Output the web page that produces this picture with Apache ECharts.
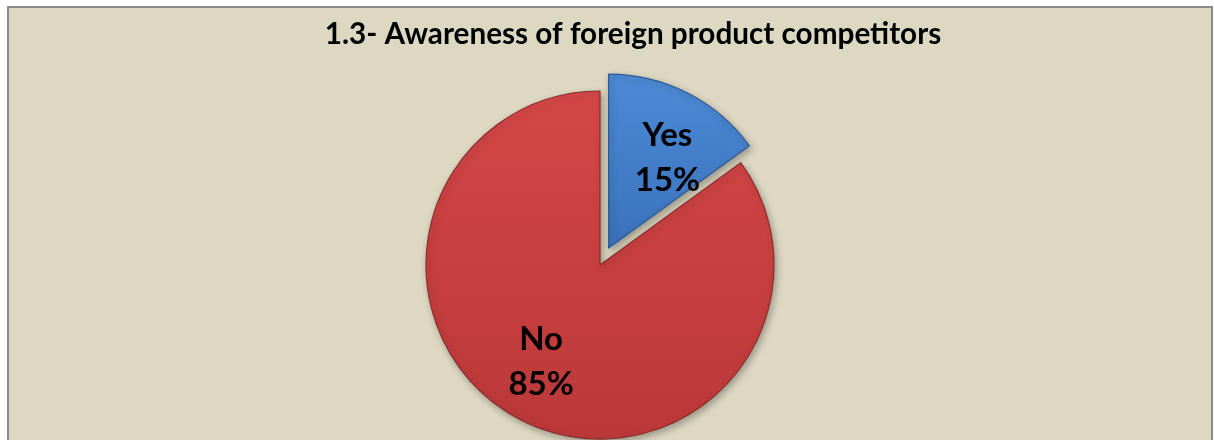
<!DOCTYPE html>
<html>
<head>
<meta charset="utf-8">
<script src="https://cdn.jsdelivr.net/npm/echarts@6/dist/echarts.min.js"></script>
<style>
  html, body { margin: 0; padding: 0; background: #ffffff; }
  #chart { width: 1214px; height: 440px; }
</style>
</head>
<body>
<div id="chart"></div>
<script>
// Survey answers: share of respondents (percent)
const categories = ['Yes', 'No'];
const shares = [15, 85];

const chartTitle = '1.3- Awareness of foreign product competitors';

// Fill gradients (top / bottom) and bevel edge per slice
const sliceFills = [
  { top: '#4d8ad6', bottom: '#3a71bc', edge: '#2e5b96' },
  { top: '#d44747', bottom: '#bb3838', edge: '#8e2b2b' }
];

// Nudge each label inside its slice [dx, dy]
const labelShift = [
  [18, -10],
  [-18, 17]
];

const chart = echarts.init(document.getElementById('chart'), null, { renderer: 'canvas' });

const pieData = categories.map((name, i) => ({
  name: name,
  value: shares[i],
  selected: i === 0,
  label: { offset: labelShift[i] },
  select: { label: { offset: labelShift[i] } },
  itemStyle: {
    color: {
      type: 'linear', x: 0, y: 0, x2: 0, y2: 1,
      colorStops: [
        { offset: 0, color: sliceFills[i].top },
        { offset: 1, color: sliceFills[i].bottom }
      ]
    },
    borderColor: sliceFills[i].edge,
    borderWidth: 1.2
  }
}));

chart.setOption({
  backgroundColor: '#ffffff',
  animation: false,
  graphic: [{
    type: 'rect',
    z: -10,
    silent: true,
    shape: { x: 8, y: 7, width: 1204, height: 445 },
    style: { fill: '#ddd8c2', stroke: '#8a8a8a', lineWidth: 2 }
  }],
  title: {
    text: chartTitle,
    left: 628,
    textAlign: 'center',
    top: 14,
    textStyle: {
      fontFamily: 'Lato',
      fontWeight: 'bold',
      fontSize: 29.7,
      color: '#000000'
    }
  },
  series: [{
    type: 'pie',
    center: [600, 265],
    radius: [0, 174],
    startAngle: 90,
    clockwise: true,
    selectedMode: 'single',
    selectedOffset: 19,
    itemStyle: {
      shadowBlur: 7,
      shadowColor: 'rgba(0,0,0,0.3)',
      shadowOffsetX: 2,
      shadowOffsetY: 3
    },
    label: {
      show: true,
      position: 'inside',
      formatter: '{b}\n{d}%',
      fontFamily: 'Lato',
      fontWeight: 'bold',
      fontSize: 33,
      lineHeight: 45,
      color: '#000000'
    },
    labelLine: { show: false },
    emphasis: { disabled: true },
    data: pieData
  }]
});
</script>
</body>
</html>
